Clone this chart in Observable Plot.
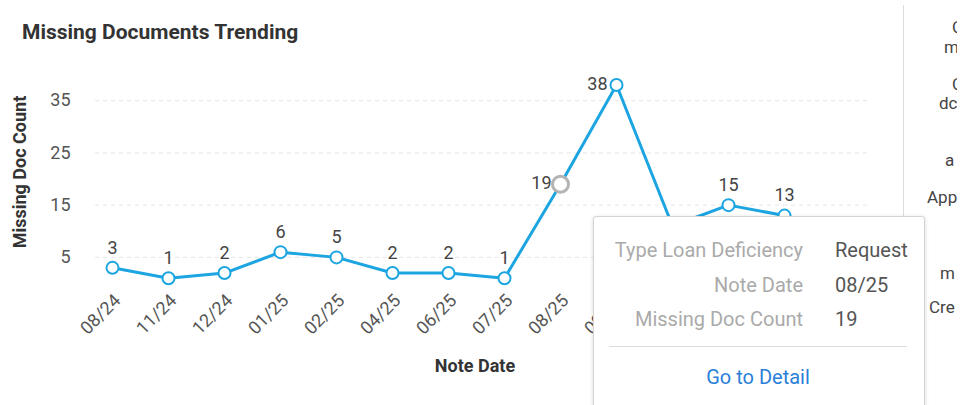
<!DOCTYPE html>
<html>
<head>
<meta charset="utf-8">
<script src="https://cdn.jsdelivr.net/npm/d3@7"></script>
<script src="https://cdn.jsdelivr.net/npm/@observablehq/plot@0.6"></script>
<style>
  html, body { margin: 0; padding: 0; background: #fff; }
  body { width: 964px; height: 405px; overflow: hidden; position: relative; font-family: Roboto, sans-serif; }
  #chart { position: absolute; left: 0; top: 0; }
  .title { position: absolute; left: 22px; top: 20px; font-size: 21px; font-weight: 700; color: #333; white-space: nowrap; }
  .ylab { position: absolute; left: 19px; top: 172px; transform: translate(-50%, -50%) rotate(-90deg); font-size: 18px; font-weight: 700; color: #333; white-space: nowrap; }
  .xlab { position: absolute; left: 475px; top: 355px; transform: translateX(-50%); font-size: 18px; font-weight: 700; color: #333; white-space: nowrap; }
  .divider { position: absolute; left: 903px; top: 5px; width: 1px; height: 212px; background: #ddd; }
  .sidebox { position: absolute; left: 905px; top: 0; width: 52px; height: 405px; overflow: hidden; }
  .side { position: absolute; font-size: 17px; color: #444; white-space: nowrap; transform: translateY(-50%); }
  .tip { position: absolute; left: 593px; top: 216px; width: 330px; height: 200px; background: #fff; border: 1px solid #d4d4d4; border-radius: 3px; box-shadow: 0 1px 4px rgba(0,0,0,0.15); font-size: 20px; }
  .tip .k { position: absolute; right: 121px; color: #aaa; white-space: nowrap; }
  .tip .v { position: absolute; left: 241px; color: #555; white-space: nowrap; }
  .tip .sep { position: absolute; left: 15px; width: 298px; top: 129px; height: 1px; background: #ddd; }
  .tip .go { position: absolute; left: 0; width: 328px; top: 148px; text-align: center; color: #2a80d8; }
</style>
</head>
<body>
<div id="chart"></div>
<div class="title">Missing Documents Trending</div>
<div class="ylab">Missing Doc Count</div>
<div class="xlab">Note Date</div>
<div class="divider"></div>
<div class="sidebox">
  <div class="side" style="left:47px;top:27px">C</div>
  <div class="side" style="left:39px;top:47px">m</div>
  <div class="side" style="left:47px;top:84px">C</div>
  <div class="side" style="left:34px;top:103px">dc</div>
  <div class="side" style="left:40px;top:160px">a</div>
  <div class="side" style="left:22px;top:197px">App</div>
  <div class="side" style="left:35px;top:273px">m</div>
  <div class="side" style="left:24px;top:307px">Cre</div>
</div>
<div class="tip">
  <div class="k" style="top:21px">Type Loan Deficiency</div><div class="v" style="top:21px">Request</div>
  <div class="k" style="top:56px">Note Date</div><div class="v" style="top:56px">08/25</div>
  <div class="k" style="top:90px">Missing Doc Count</div><div class="v" style="top:90px">19</div>
  <div class="sep"></div>
  <div class="go">Go to Detail</div>
</div>
<script>
const dates = ["08/24","11/24","12/24","01/25","02/25","04/25","06/25","07/25","08/25","09/25","10/25","11/25","12/25"];
const counts = [3, 1, 2, 6, 5, 2, 2, 1, 19, 38, 11, 15, 13];
const yTicks = [5, 15, 25, 35];
const hovered = "08/25";
const leftLabelled = ["08/25", "09/25"];
const hiddenLabel = ["10/25"];

const data = dates.map((d, i) => ({date: d, count: counts[i]}));
const blue = "#1ca5e0";

const chart = Plot.plot({
  width: 964,
  height: 405,
  marginLeft: 95,
  marginRight: 96,
  marginTop: 74,
  marginBottom: 122,
  style: {fontFamily: "Roboto, sans-serif", fontSize: "18px", color: "#555", background: "transparent"},
  x: {type: "point", domain: dates, padding: 0, insetLeft: 16, insetRight: 84, label: null},
  y: {domain: [0, 40], label: null},
  marks: [
    Plot.ruleY(yTicks, {stroke: "#e6e6e6", strokeDasharray: "4,4", strokeWidth: 1}),
    Plot.axisY({ticks: yTicks, tickSize: 0, tickPadding: 25, label: null, fontSize: 18}),
    Plot.axisX({tickSize: 0, tickPadding: 14, dx: 5, tickRotate: -45, label: null, fontSize: 18}),
    Plot.line(data, {x: "date", y: "count", stroke: blue, strokeWidth: 3}),
    Plot.dot(data.filter(d => d.date !== hovered), {x: "date", y: "count", r: 6, fill: "white", stroke: blue, strokeWidth: 2}),
    Plot.dot(data.filter(d => d.date === hovered), {x: "date", y: "count", r: 8, fill: "white", stroke: "#b4b4b4", strokeWidth: 3}),
    Plot.text(data.filter(d => !leftLabelled.includes(d.date) && !hiddenLabel.includes(d.date)), {x: "date", y: "count", text: d => String(d.count), dy: -20, fill: "#444", fontSize: 18}),
    Plot.text(data.filter(d => leftLabelled.includes(d.date)), {x: "date", y: "count", text: d => String(d.count), dx: -9, dy: -1, textAnchor: "end", fill: "#444", fontSize: 18})
  ]
});
document.getElementById("chart").appendChild(chart);
</script>
</body>
</html>
